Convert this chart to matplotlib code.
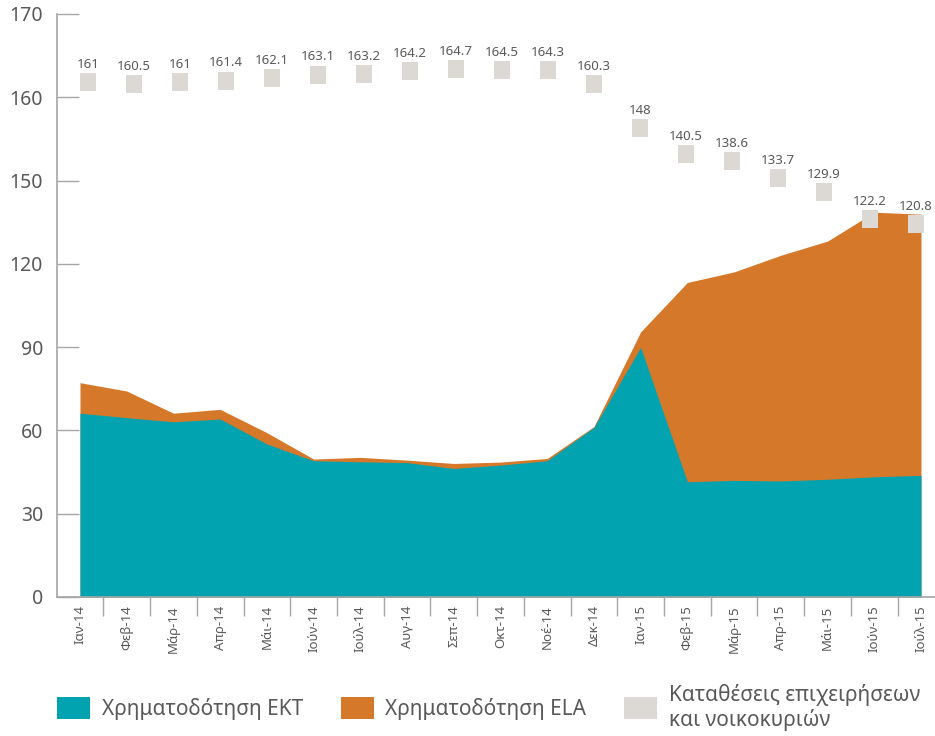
import numpy as np
import matplotlib
matplotlib.use("Agg")
import matplotlib.pyplot as plt
from matplotlib.patches import Patch

plt.rcParams['font.family'] = ['Noto Sans', 'DejaVu Sans']

months = ["Ιαν-14", "Φεβ-14", "Μάρ-14", "Απρ-14", "Μάι-14", "Ιούν-14", "Ιούλ-14",
          "Αυγ-14", "Σεπ-14", "Οκτ-14", "Νοέ-14", "Δεκ-14", "Ιαν-15", "Φεβ-15",
          "Μάρ-15", "Απρ-15", "Μάι-15", "Ιούν-15", "Ιούλ-15"]

# ECB funding (bn EUR)
ecb = [66.2, 64.6, 63.1, 64.1, 55.1, 49.1, 48.7, 48.4, 46.3, 47.5,
       49.1, 61.1, 89.9, 41.5, 42.0, 41.8, 42.4, 43.3, 43.8]
# ECB + ELA total
total = [77.2, 74.2, 66.2, 67.6, 59.2, 49.7, 50.3, 49.3, 48.1, 48.6,
         49.9, 61.4, 95.5, 113.3, 117.1, 123.1, 128.2, 138.6, 137.9]
# deposits of businesses and households
deposits = [161, 160.5, 161, 161.4, 162.1, 163.1, 163.2, 164.2, 164.7, 164.5,
            164.3, 160.3, 148, 140.5, 138.6, 133.7, 129.9, 122.2, 120.8]

ytick_labels = ["0", "30", "60", "90", "120", "150", "160", "170"]

teal = "#00A3AF"
orange = "#D5782A"
grey = "#DCD8D4"
txt = "#595959"
axc = "#A6A6A6"

x = np.arange(len(months))

fig = plt.figure(figsize=(9.35, 7.36), dpi=100)
rect = [57 / 935, 139 / 736, 878 / 935, 583 / 736]
ax = fig.add_axes(rect)

ax.fill_between(x, 0, total, color=orange, lw=0)
ax.fill_between(x, 0, ecb, color=teal, lw=0)

ax.set_xlim(-0.492, 18.3)
ax.set_ylim(0, 210)
ax.set_yticks(np.arange(0, 211, 30))
ax.set_yticklabels(ytick_labels)

for s in ["top", "right"]:
    ax.spines[s].set_visible(False)
for s in ["left", "bottom"]:
    ax.spines[s].set_color(axc)
    ax.spines[s].set_linewidth(1.2)

ax.tick_params(axis="y", direction="in", length=16, width=1, color=axc,
               labelsize=14, labelcolor=txt, pad=10)
ax.set_xticks(x)
ax.set_xticklabels(months, rotation=90, fontsize=9.5, color=txt)
ax.tick_params(axis="x", which="major", length=0, pad=6)
ax.set_xticks(list(x[:-1] + 0.5) + [x[-1]], minor=True)
ax.tick_params(axis="x", which="minor", length=14, width=1, color=axc, direction="out")

# deposits on a hidden overlay axes with its own scales
ax2 = fig.add_axes(rect)
ax2.patch.set_alpha(0)
ax2.set_xlim(-0.674, 18.41)
ax2.set_ylim(15.2, 180.25)
ax2.axis("off")
box = [(-0.42, -0.5), (0.42, -0.5), (0.42, 0.5), (-0.42, 0.5), (-0.42, -0.5)]
ax2.plot(x, deposits, ls="none", marker=box, markersize=13, color=grey,
         markeredgewidth=0, zorder=3, clip_on=False)
for xi, v in zip(x, deposits):
    ax2.annotate(f"{v:g}", (xi, v), xytext=(0, 8), textcoords="offset points",
                 ha="center", va="bottom", fontsize=9.5, color=txt)

handles = [Patch(color=teal, lw=0), Patch(color=orange, lw=0), Patch(color=grey, lw=0)]
labels = ["Χρηματοδότηση ΕΚΤ", "Χρηματοδότηση ELA", "Καταθέσεις επιχειρήσεων\nκαι νοικοκυριών"]
fig.legend(handles, labels, loc="upper left", bbox_to_anchor=(57 / 935, 0.071),
           ncol=3, frameon=False, fontsize=15, labelcolor=txt,
           handlelength=1.6, handleheight=1.25, handletextpad=0.55,
           columnspacing=1.8, borderpad=0, borderaxespad=0)

fig.savefig("out.png", dpi=100)
